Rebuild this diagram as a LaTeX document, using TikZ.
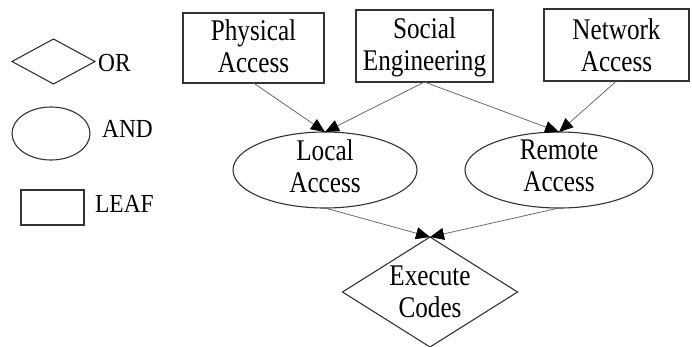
\documentclass[tikz,border=0pt]{standalone}
\usepackage{fontspec}
\setmainfont{Liberation Serif}[FakeStretch=0.84]
\newfontfamily\legendfont{Liberation Serif}[FakeStretch=0.9]
\usetikzlibrary{shapes.geometric,arrows.meta}
\definecolor{bordercol}{HTML}{333333}
\definecolor{edgecol}{HTML}{6A6A6A}
\begin{document}
\begin{tikzpicture}[x=1pt,y=-1pt,
  shp/.style={draw=bordercol, line width=1.1pt, inner sep=0pt, outer sep=0pt},
  leafbox/.style={shp, rectangle},
  andnode/.style={shp, ellipse},
  ornode/.style={shp, diamond},
  lbl/.style={inner sep=0pt, align=center, font=\fontsize{30}{32}\selectfont},
  legtext/.style={inner sep=0pt, anchor=base west, font=\legendfont\fontsize{26}{26}\selectfont},
  edge/.style={draw=edgecol, line width=0.8pt, -{Triangle[length=14pt,width=12pt,color=black]}}]
\useasboundingbox (0,0) rectangle (692,346);

% legend
\node[ornode, minimum width=83pt, minimum height=45pt] (legor) at (53.5,61.5) {};
\node[andnode, minimum width=78pt, minimum height=53pt] (legand) at (51,133.5) {};
\node[leafbox, minimum width=63pt, minimum height=35pt] (legleaf) at (52.5,207.5) {};
\node[legtext] (tor) at (98,71) {OR};
\node[legtext] (tand) at (102,137) {AND};
\node[legtext] (tleaf) at (95,212) {LEAF};

% leaves
\node[leafbox, minimum width=141pt, minimum height=70pt] (phys) at (253.5,48) {};
\node[leafbox, minimum width=137pt, minimum height=72pt] (soc) at (424.5,46) {};
\node[leafbox, minimum width=145pt, minimum height=72pt] (net) at (616.5,45) {};
\node[lbl] (tphys) at (253.5,46.5) {Physical\\Access};
\node[lbl] (tsoc) at (424.5,47.5) {Social\\Engineering};
\node[lbl] (tnet) at (616.5,45) {Network\\Access};

% and nodes
\node[andnode, minimum width=184pt, minimum height=76pt] (local) at (325,170) {};
\node[andnode, minimum width=188pt, minimum height=76pt] (remote) at (559,170) {};
\node[lbl] (tlocal) at (325,166) {Local\\Access};
\node[lbl] (tremote) at (559,166) {Remote\\Access};

% or node
\node[ornode, minimum width=175pt, minimum height=110pt] (exec) at (430,292) {};
\node[lbl] (texec) at (430,292) {Execute\\Codes};

% edges
\draw[edge] (phys.south) -- (local.north);
\draw[edge] (soc.south) -- (local.north);
\draw[edge] (soc.south) -- (remote.north);
\draw[edge] (net.south) -- (remote.north);
\draw[edge] (local.south) -- (exec.north);
\draw[edge] (remote.south) -- (exec.north);
\end{tikzpicture}
\end{document}
